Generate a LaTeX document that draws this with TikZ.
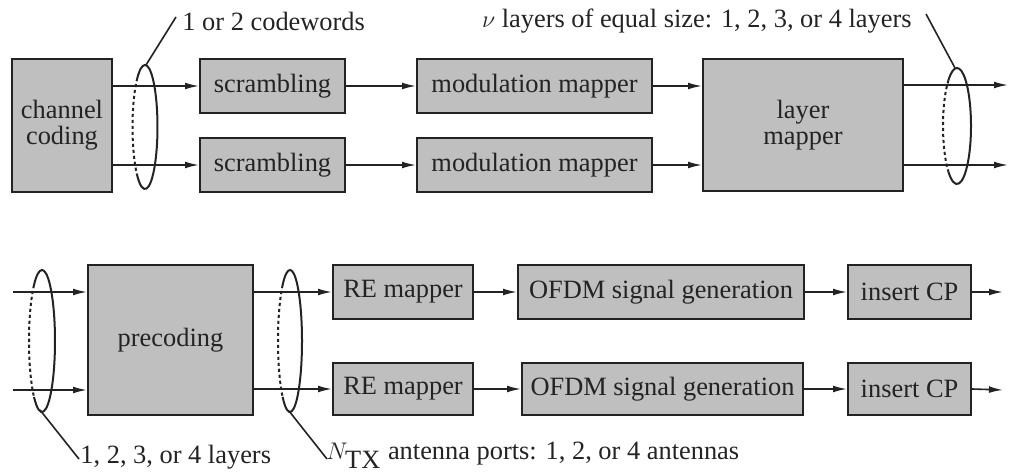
\documentclass[tikz,border=0pt]{standalone}
\usepackage{fontspec}
\setmainfont{Liberation Serif}
\usetikzlibrary{arrows.meta}
\definecolor{boxgray}{RGB}{192,191,191}
\definecolor{ink}{RGB}{35,35,35}
\begin{document}
\begin{tikzpicture}[x=0.5pt,y=-0.5pt,
  font=\fontsize{13.2}{15}\selectfont,
  blk/.style={draw=ink,fill=boxgray,line width=1pt,inner sep=0pt,align=center,text=ink},
  arr/.style={draw=ink,line width=0.8pt,-{Latex[length=7pt,width=3.4pt]}},
  ring/.style={draw=ink,line width=1pt},
  back/.style={draw=ink,line width=1pt,dash pattern=on 1.6pt off 1.4pt},
  lead/.style={draw=ink,line width=0.8pt},
  lbl/.style={inner sep=0pt,text=ink}]
\useasboundingbox (0,0) rectangle (1010,475);

% bundle ring: solid front, dotted back
\newcommand{\bundle}[3]{%
  \draw[ring] (#1) ++(-128:#2 and #3) arc[start angle=-128,end angle=128,x radius=#2,y radius=#3];
  \draw[back] (#1) ++(128:#2 and #3) arc[start angle=128,end angle=232,x radius=#2,y radius=#3];}

% --- upper chain ---
\node[blk,minimum width=50pt,minimum height=66.5pt] (cc) at (62,125.5) {channel\\[-2pt]coding};
\node[blk,minimum width=72.5pt,minimum height=27pt] (s1) at (272.5,86) {scrambling};
\node[blk,minimum width=72.5pt,minimum height=27pt] (s2) at (272.5,165) {scrambling};
\node[blk,minimum width=117.5pt,minimum height=27pt] (m1) at (534.5,86) {modulation mapper};
\node[blk,minimum width=117.5pt,minimum height=27pt] (m2) at (534.5,165) {modulation mapper};
\node[blk,minimum width=100pt,minimum height=66pt] (lm) at (803,125) {layer\\[-2pt]mapper};
\coordinate (o1) at (1008,85);
\coordinate (o2) at (1008,165);

\draw[arr] (s1.west -| cc.east) -- (s1.west);
\draw[arr] (s2.west -| cc.east) -- (s2.west);
\draw[arr] (s1) -- (m1);
\draw[arr] (s2) -- (m2);
\draw[arr] (m1.east) -- (m1.east -| lm.west);
\draw[arr] (m2.east) -- (m2.east -| lm.west);
\draw[arr] (o1 -| lm.east) -- (o1);
\draw[arr] (o2 -| lm.east) -- (o2);

% bundle rings, upper chain
\coordinate (e1) at (145,127);
\coordinate (e2) at (957,126);
\bundle{e1}{6.25pt}{31pt}
\bundle{e2}{7pt}{29pt}

\node[lbl,anchor=west] (t1) at (182,21) {1 or 2 codewords};
\node[lbl,anchor=east] (t2) at (912,21) {$\nu$ layers of equal size: 1, 2, 3, or 4 layers};
\coordinate (k1) at (176,17);
\coordinate (k2) at (926,14);
\draw[lead] (146,65) -- (k1);
\draw[lead] (955,68) -- (k2);

% --- lower chain ---
\node[blk,minimum width=82.5pt,minimum height=75pt] (pc) at (170.5,340) {precoding};
\node[blk,minimum width=70pt,minimum height=27pt] (r1) at (403,292) {RE mapper};
\node[blk,minimum width=70pt,minimum height=26pt] (r2) at (403,389) {RE mapper};
\node[blk,minimum width=143pt,minimum height=27pt] (f1) at (661,292) {OFDM signal generation};
\node[blk,minimum width=140.5pt,minimum height=26pt] (f2) at (662.5,389) {OFDM signal generation};
\node[blk,minimum width=61.5pt,minimum height=27pt] (c1) at (909.5,292) {insert CP};
\node[blk,minimum width=61.5pt,minimum height=26pt] (c2) at (909.5,389) {insert CP};
\coordinate (i1) at (13,292);
\coordinate (i2) at (13,390);
\coordinate (q1) at (1003,292);
\coordinate (q2) at (1003,390);

\draw[arr] (i1) -- (i1 -| pc.west);
\draw[arr] (i2) -- (i2 -| pc.west);
\draw[arr] (r1.west -| pc.east) -- (r1.west);
\draw[arr] (r2.west -| pc.east) -- (r2.west);
\draw[arr] (r1) -- (f1);
\draw[arr] (r2) -- (f2);
\draw[arr] (f1) -- (c1);
\draw[arr] (f2) -- (c2);
\draw[arr] (c1.east) -- (q1);
\draw[arr] (c2.east) -- (q2);

% bundle rings, lower chain
\coordinate (e3) at (42,341);
\coordinate (e4) at (290,341);
\bundle{e3}{6.5pt}{35.5pt}
\bundle{e4}{6pt}{35.5pt}

\node[lbl,anchor=west] (t3) at (80,457) {1, 2, 3, or 4 layers};
\node[lbl,anchor=west] (t4) at (326,455) {$N_{\textrm{TX}}$ antenna ports: 1, 2, or 4 antennas};
\coordinate (k3) at (79,459);
\coordinate (k4) at (327,459);
\draw[lead] (40,410) -- (k3);
\draw[lead] (289,411) -- (k4);
\end{tikzpicture}
\end{document}
